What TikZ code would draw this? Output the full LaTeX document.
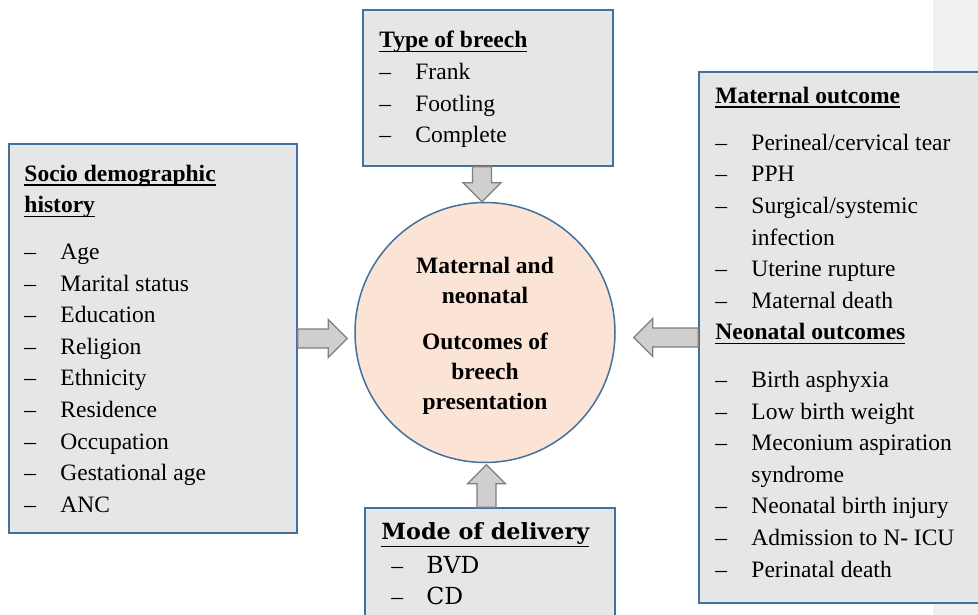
\documentclass[tikz,border=0pt]{standalone}
\usepackage{fontspec}
\setmainfont{Liberation Serif}
\newfontfamily\modefont[Ligatures=TeX]{DejaVu Serif}
\usetikzlibrary{calc}
\definecolor{boxblue}{HTML}{41719C}
\definecolor{boxgray}{HTML}{E7E6E6}
\definecolor{hubfill}{HTML}{FBE4D5}
\definecolor{arrowfill}{HTML}{D0CECE}
\definecolor{arrowline}{HTML}{7F7F7F}
\definecolor{stripgray}{HTML}{F0F0F0}
\newlength\ulwd
\newcommand\ultitle[2][4.5pt]{\settowidth\ulwd{#2}\rlap{\rule[-#1]{\ulwd}{1.8pt}}#2}
\newcommand\itemdash{\makebox[36pt][l]{--}}
% fat arrow from #1 to #2
\newcommand\blockarrow[2]{%
  \coordinate (hb) at ($(#2)!19pt!(#1)$);
  \draw[fatarrow] ($(#1)!9.5pt!90:(#2)$) -- ($(hb)!9.5pt!-90:(#1)$) -- ($(hb)!19pt!-90:(#1)$) -- (#2)
    -- ($(hb)!19pt!90:(#1)$) -- ($(hb)!9.5pt!90:(#1)$) -- ($(#1)!9.5pt!-90:(#2)$) -- cycle;}
\begin{document}
\begin{tikzpicture}[x=1pt,y=-1pt,
    box/.style={draw=boxblue,fill=boxgray,line width=1.5pt,inner sep=0pt},
    hubnode/.style={circle,draw=boxblue,fill=hubfill,line width=1.5pt,minimum size=260pt,inner sep=0pt},
    hubtext/.style={align=center,inner sep=0pt,font=\bfseries\fontsize{23.5}{30}\selectfont},
    txt/.style={anchor=north west,align=left,inner sep=0pt,font=\fontsize{23.5}{31.6}\selectfont},
    fatarrow/.style={fill=arrowfill,draw=arrowline,line width=1.3pt,line join=miter}]
  \useasboundingbox (0,0) rectangle (978,615);
  \fill[stripgray] (933,0) rectangle (978,615);

  \node[box,minimum width=250pt,minimum height=156pt] (tbox) at (488,88) {};
  \node[box,minimum width=288pt,minimum height=389pt] (lbox) at (153,338.5) {};
  \node[box,minimum width=286pt,minimum height=531pt] (rbox) at (842,337.5) {};
  \node[box,minimum width=250pt,minimum height=122pt] (mbox) at (490,569) {};
  \node[hubnode] (hub) at (485,332.5) {};
  \node[hubtext] (htext) at ($(hub)+(0,3)$) {Maternal and\\neonatal\\[16pt]Outcomes of\\breech\\presentation};

  \node[txt] (ttext) at ($(tbox.north west)+(17,22)$) {\textbf{\ultitle{Type of breech}}\\
    \itemdash Frank\\ \itemdash Footling\\ \itemdash Complete};
  \node[txt] (ltext) at ($(lbox.north west)+(16,21.5)$) {\textbf{\ultitle{Socio demographic}}\\
    \textbf{\ultitle{history}}\\[15pt]
    \itemdash Age\\ \itemdash Marital status\\ \itemdash Education\\ \itemdash Religion\\
    \itemdash Ethnicity\\ \itemdash Residence\\ \itemdash Occupation\\ \itemdash Gestational age\\
    \itemdash ANC};
  \node[txt] (rtext) at ($(rbox.north west)+(17,16)$) {\textbf{\ultitle{Maternal outcome}}\\[15pt]
    \itemdash Perineal/cervical tear\\ \itemdash PPH\\ \itemdash Surgical/systemic\\
    \hspace*{36pt}infection\\ \itemdash Uterine rupture\\ \itemdash Maternal death\\
    \textbf{\ultitle{Neonatal outcomes}}\\[16pt]
    \itemdash Birth asphyxia\\ \itemdash Low birth weight\\ \itemdash Meconium aspiration\\
    \hspace*{36pt}syndrome\\ \itemdash Neonatal birth injury\\ \itemdash Admission to N- ICU\\
    \itemdash Perinatal death};
  \node[txt,font=\modefont\fontsize{23.5}{31}\selectfont] (mtext) at ($(mbox.north west)+(17,15)$)
    {{\fontsize{22.3}{31}\selectfont\textbf{\ultitle[8pt]{Mode of delivery}}}\\[3pt]
    \hspace*{10pt}\makebox[35pt][l]{\rmfamily --}BVD\\ \hspace*{10pt}\makebox[35pt][l]{\rmfamily --}CD};

  \coordinate (ltip) at ($(hub.west)+(-7,6)$);
  \coordinate (rtip) at ($(hub.east)+(18,5)$);
  \coordinate (ttip) at ($(hub.north)+(-3,0)$);
  \coordinate (mtip) at ($(hub.south)+(1.5,1.5)$);
  \blockarrow{lbox.east}{ltip}
  \blockarrow{rbox.west}{rtip}
  \blockarrow{ttip |- tbox.south}{ttip}
  \blockarrow{mtip |- mbox.north}{mtip}
\end{tikzpicture}
\end{document}
